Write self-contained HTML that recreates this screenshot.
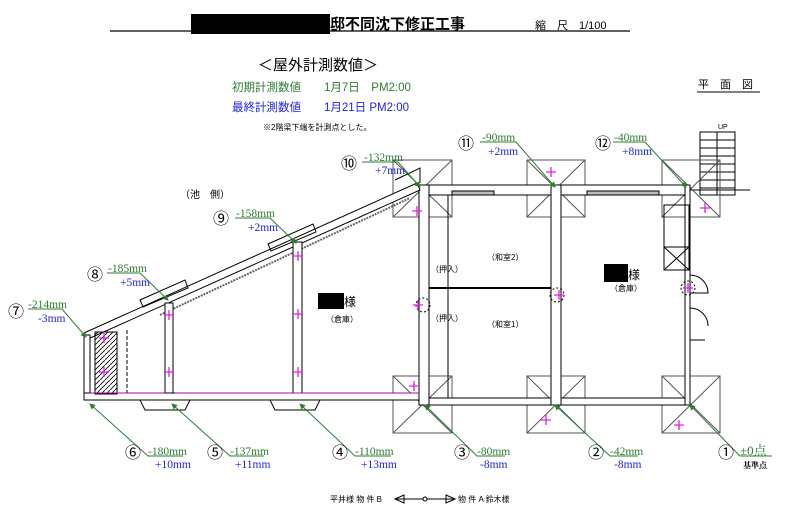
<!DOCTYPE html>
<html><head><meta charset="utf-8"><style>
html,body{margin:0;padding:0;background:#fff;}
svg{display:block;font-family:"Liberation Sans","Noto Sans CJK JP",sans-serif;}
.g{fill:#2e7d32}.b{fill:#2222dd}
.m{font-family:"Liberation Serif","Noto Serif CJK SC",serif;}
</style></head><body>
<svg width="800" height="513" viewBox="0 0 800 513" xmlns="http://www.w3.org/2000/svg">
<line x1="110" y1="31" x2="630" y2="31" stroke="#000" stroke-width="1.2"/>
<rect x="191" y="14" width="139" height="20" fill="#000"/>
<text x="330" y="29" font-size="15" font-weight="bold">邸不同沈下修正工事</text>
<text x="535" y="29" font-size="11">縮　尺　1/100</text>
<text x="258" y="70" font-size="15">＜屋外計測数値＞</text>
<text x="232" y="91" font-size="11.5" class="g">初期計測数値　　1月7日　PM2:00</text>
<text x="232" y="111" font-size="11.5" class="b">最終計測数値　　1月21日 PM2:00</text>
<text x="263" y="130" font-size="8">※2階梁下端を計測点とした。</text>
<text x="698" y="88" font-size="11">平　面　図</text>
<line x1="697" y1="92" x2="760" y2="92" stroke="#000"/>
<text x="180" y="198" font-size="10">（池　側）</text>

<g stroke="#000" fill="none" stroke-width="1">
<rect x="700" y="132" width="35" height="63"/>
<path d="M700 140H735M700 148H735M700 156H735M700 164H735M700 172H735M700 180H735M700 188H735M717 132V195"/>
<line x1="690" y1="190" x2="750" y2="190"/>
<text x="718" y="129" font-size="7" fill="#000" stroke="none">UP</text>
<g stroke="#555">
<rect x="393" y="160" width="59" height="57"/><path d="M393 160L452 217M452 160L393 217"/>
<rect x="527" y="160" width="58" height="57"/><path d="M527 160L585 217M585 160L527 217"/>
<rect x="662" y="160" width="58" height="57"/><path d="M662 160L720 217M720 160L662 217"/>
<rect x="393" y="376" width="59" height="57"/><path d="M393 376L452 433M452 376L393 433"/>
<rect x="527" y="376" width="58" height="57"/><path d="M527 376L585 433M585 376L527 433"/>
<rect x="662" y="376" width="58" height="57"/><path d="M662 376L720 433M720 376L662 433"/>
</g>
<rect x="419" y="185" width="271" height="10" fill="#fff"/>
<rect x="419" y="398" width="271" height="7" fill="#fff"/>
<rect x="419" y="185" width="10" height="220" fill="#fff"/>
<rect x="551" y="185" width="10" height="220" fill="#fff"/>
<rect x="685" y="185" width="5" height="220" fill="#fff"/>
<line x1="429" y1="288" x2="551" y2="288" stroke-width="2"/>
<line x1="448" y1="195" x2="448" y2="398"/>
<rect x="452" y="191" width="42" height="4" fill="#bbb"/>
<rect x="587" y="191" width="72" height="4" fill="#bbb"/>
<rect x="664" y="205" width="25" height="65"/>
<path d="M664 247H689M664 247L689 270M689 247L664 270"/>
<path d="M690 275A18 18 0 0 1 708 293H690M690 308A18 18 0 0 1 708 326M690 340H705"/>
<circle cx="423" cy="305" r="7" stroke-dasharray="2,2"/>
<circle cx="557" cy="295" r="7" stroke-dasharray="2,2"/>
<circle cx="688" cy="288" r="7" stroke-dasharray="2,2"/>
<path d="M84 333L417 183L420 190L88 339Z" fill="#fff"/>
<line x1="160" y1="315" x2="410" y2="198" stroke="#666" stroke-width="2" stroke-dasharray="2,1"/>
<path d="M140 300L185 280L188 288L143 307Z"/>
<path d="M268 244L313 224L316 232L271 251Z"/>
<path d="M395 180L420 168V183"/>
<rect x="84" y="335" width="6" height="65" fill="#fff"/>
<rect x="84" y="393" width="335" height="7" fill="#fff"/>
<rect x="165" y="303" width="8" height="90" fill="#fff"/>
<rect x="293" y="242" width="9" height="151" fill="#fff"/>
<rect x="95" y="332" width="22" height="62" fill="url(#h)"/>
<line x1="127" y1="330" x2="127" y2="393" stroke-dasharray="4,2"/>
<path d="M140 400H190L185 410H145Z"/>
<path d="M270 400H320L315 410H275Z"/>
<line x1="175" y1="393" x2="419" y2="393" stroke="#a0a" stroke-width="1"/>
<line x1="90" y1="393" x2="165" y2="393" stroke="#a0a"/>
</g>
<defs><pattern id="h" width="5" height="5" patternUnits="userSpaceOnUse"><path d="M0 5L5 0" stroke="#000" stroke-width="0.8"/></pattern>
<marker id="a" markerWidth="6" markerHeight="6" refX="5" refY="3" orient="auto"><path d="M0 0L6 3L0 6Z" fill="#2e7d32"/></marker></defs>

<g font-size="8">
<text x="487" y="260">（和室2）</text>
<text x="487" y="327">（和室1）</text>
<text x="431" y="272">（押入）</text>
<text x="431" y="321">（押入）</text>
<rect x="604" y="264" width="24" height="18" fill="#000"/><text x="628" y="279" font-size="12">様</text>
<text x="610" y="291">（倉庫）</text>
<rect x="318" y="293" width="26" height="16" fill="#000"/><text x="344" y="306" font-size="12">様</text>
<text x="326" y="322">（倉庫）</text>
</g>

<g stroke="#e020e0" stroke-width="1.3">
<path d="M412 211h10M417 206v10M546 172h10M551 167v10M700 208h10M705 203v10M409 386h10M414 381v10M541 420h10M546 415v10M674 425h10M679 420v10M413 305h10M418 300v10M554 295h10M559 290v10M683 288h10M688 283v10M99 338h10M104 333v10M99 372h10M104 367v10M164 315h10M169 310v10M164 372h10M169 367v10M293 256h10M298 251v10M293 314h10M298 309v10M293 372h10M298 367v10"/>
</g>

<g stroke="#2e7d32" stroke-width="1" fill="none">
<path d="M362 162H398L420 187" marker-end="url(#a)"/>
<path d="M480 142H516L555 187" marker-end="url(#a)"/>
<path d="M613 142H645L686 187" marker-end="url(#a)"/>
<path d="M235 218H270L296 243" marker-end="url(#a)"/>
<path d="M107 273H140L168 300" marker-end="url(#a)"/>
<path d="M28 309H62L86 337" marker-end="url(#a)"/>
<path d="M183 456H148L90 404" marker-end="url(#a)"/>
<path d="M264 456H230L172 404" marker-end="url(#a)"/>
<path d="M391 456H355L300 404" marker-end="url(#a)"/>
<path d="M505 456H477L425 405" marker-end="url(#a)"/>
<path d="M638 456H610L555 405" marker-end="url(#a)"/>
<path d="M772 456H740L690 405" marker-end="url(#a)"/>
</g>
<g font-size="16"><text x="341" y="169">⑩</text><text x="458" y="149">⑪</text><text x="595" y="149">⑫</text><text x="213" y="224">⑨</text><text x="87" y="280">⑧</text><text x="8" y="317">⑦</text>
<text x="125" y="458">⑥</text><text x="207" y="458">⑤</text><text x="332" y="458">④</text><text x="454" y="458">③</text><text x="588" y="458">②</text><text x="718" y="458">①</text></g>
<g font-size="11.5" class="m">
<text x="364" y="161" class="g">-132mm</text><text x="375" y="174" class="b">+7mm</text>
<text x="482" y="141" class="g">-90mm</text><text x="488" y="155" class="b">+2mm</text>
<text x="614" y="141" class="g">-40mm</text><text x="622" y="155" class="b">+8mm</text>
<text x="236" y="217" class="g">-158mm</text><text x="248" y="231" class="b">+2mm</text>
<text x="108" y="272" class="g">-185mm</text><text x="120" y="286" class="b">+5mm</text>
<text x="28" y="308" class="g">-214mm</text><text x="38" y="322" class="b">-3mm</text>
<text x="148" y="455" class="g">-180mm</text><text x="155" y="468" class="b">+10mm</text>
<text x="230" y="455" class="g">-137mm</text><text x="235" y="468" class="b">+11mm</text>
<text x="355" y="455" class="g">-110mm</text><text x="361" y="468" class="b">+13mm</text>
<text x="477" y="455" class="g">-80mm</text><text x="480" y="468" class="b">-8mm</text>
<text x="610" y="455" class="g">-42mm</text><text x="614" y="468" class="b">-8mm</text>
<text x="740" y="455" class="g" font-size="13">±0点</text><text x="743" y="468" font-size="8" font-weight="bold">基準点</text>
</g>
<text x="330" y="502" font-size="8">平井様 物 件 B</text>
<path d="M395 499H455M395 499L404 495V503ZM455 499L446 495V503Z" stroke="#000" fill="#fff"/>
<circle cx="425" cy="499" r="2" fill="#fff" stroke="#000"/>
<text x="458" y="502" font-size="8">物 件 A 鈴木様</text>
</svg>
</body></html>
